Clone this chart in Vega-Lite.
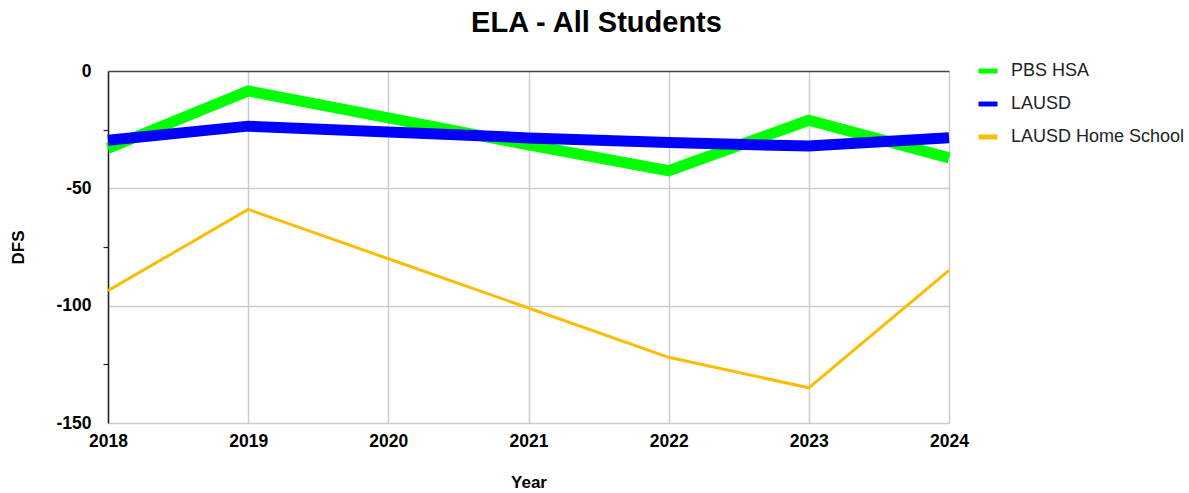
{
  "$schema": "https://vega.github.io/schema/vega-lite/v6.json",
  "width": 841,
  "height": 352,
  "autosize": "none",
  "padding": {"left": 108, "top": 71, "right": 240, "bottom": 70},
  "background": "white",
  "title": {
    "text": "ELA - All Students",
    "font": "Liberation Sans",
    "fontSize": 29,
    "fontWeight": "bold",
    "color": "#000000",
    "anchor": "middle",
    "dx": 68,
    "offset": 23
  },
  "data": {
    "values": [
      {"series": "PBS HSA", "year": 2018, "dfs": -33},
      {"series": "PBS HSA", "year": 2019, "dfs": -8.5},
      {"series": "PBS HSA", "year": 2020, "dfs": -20},
      {"series": "PBS HSA", "year": 2021, "dfs": -31.5},
      {"series": "PBS HSA", "year": 2022, "dfs": -42.5},
      {"series": "PBS HSA", "year": 2023, "dfs": -21},
      {"series": "PBS HSA", "year": 2024, "dfs": -37},
      {"series": "LAUSD", "year": 2018, "dfs": -29.5},
      {"series": "LAUSD", "year": 2019, "dfs": -23.5},
      {"series": "LAUSD", "year": 2020, "dfs": -26},
      {"series": "LAUSD", "year": 2021, "dfs": -28.5},
      {"series": "LAUSD", "year": 2022, "dfs": -30.5},
      {"series": "LAUSD", "year": 2023, "dfs": -32},
      {"series": "LAUSD", "year": 2024, "dfs": -28.4},
      {"series": "LAUSD Home School", "year": 2018, "dfs": -93.6},
      {"series": "LAUSD Home School", "year": 2019, "dfs": -59},
      {"series": "LAUSD Home School", "year": 2020, "dfs": -80},
      {"series": "LAUSD Home School", "year": 2021, "dfs": -101},
      {"series": "LAUSD Home School", "year": 2022, "dfs": -122},
      {"series": "LAUSD Home School", "year": 2023, "dfs": -135},
      {"series": "LAUSD Home School", "year": 2024, "dfs": -85}
    ]
  },
  "mark": {"type": "line", "strokeJoin": "miter", "clip": false},
  "encoding": {
    "x": {
      "field": "year",
      "type": "quantitative",
      "scale": {"domain": [2018, 2024], "nice": false, "zero": false},
      "axis": {
        "title": "Year",
        "values": [2018, 2019, 2020, 2021, 2022, 2023, 2024],
        "format": "d",
        "domain": false,
        "ticks": false,
        "labelFlush": false,
        "labelPadding": 9,
        "titlePadding": 25,
        "gridColor": "#cccccc",
        "gridWidth": 1.5
      }
    },
    "y": {
      "field": "dfs",
      "type": "quantitative",
      "scale": {"domain": [-150, 0], "nice": false},
      "axis": {
        "title": "DFS",
        "values": [0, -25, -50, -75, -100, -125, -150],
        "labelExpr": "datum.value % 50 === 0 ? '' + datum.value : ''",
        "labelFlush": false,
        "domainColor": "#222222",
        "domainWidth": 1.5,
        "tickColor": "#222222",
        "tickSize": 5,
        "tickWidth": 1.2,
        "tickOpacity": {"condition": {"test": "datum.value % 50 === 0", "value": 0}, "value": 1},
        "labelPadding": 12,
        "titlePadding": 28,
        "gridColor": {"condition": {"test": "datum.value === 0", "value": "#444444"}, "value": "#cccccc"},
        "gridOpacity": {"condition": {"test": "datum.value % 50 === 0", "value": 1}, "value": 0},
        "gridWidth": 1.5
      }
    },
    "color": {
      "field": "series",
      "type": "nominal",
      "sort": ["PBS HSA", "LAUSD", "LAUSD Home School"],
      "scale": {
        "domain": ["PBS HSA", "LAUSD", "LAUSD Home School"],
        "range": ["#00ff00", "#0000ff", "#fbbc04"]
      },
      "legend": {
        "title": null,
        "orient": "none",
        "legendX": 868,
        "legendY": -10,
        "symbolType": "stroke",
        "symbolStrokeWidth": 5,
        "symbolSize": 361,
        "clipHeight": 20,
        "rowPadding": 13,
        "labelFontSize": 18,
        "labelLimit": 300,
        "labelFont": "Liberation Sans",
        "labelColor": "#222222",
        "labelOffset": 11
      }
    },
    "strokeWidth": {
      "condition": [
        {"test": "datum.series === 'LAUSD Home School'", "value": 3},
        {"test": "datum.series === 'LAUSD'", "value": 11}
      ],
      "value": 11
    }
  },
  "config": {
    "view": {"stroke": null},
    "font": "Liberation Sans",
    "axis": {
      "labelFont": "Liberation Sans",
      "labelFontSize": 17.5,
      "labelFontWeight": "bold",
      "labelColor": "#000000",
      "titleFont": "Liberation Sans",
      "titleFontSize": 17,
      "titleFontWeight": "bold",
      "titleColor": "#000000"
    }
  }
}
